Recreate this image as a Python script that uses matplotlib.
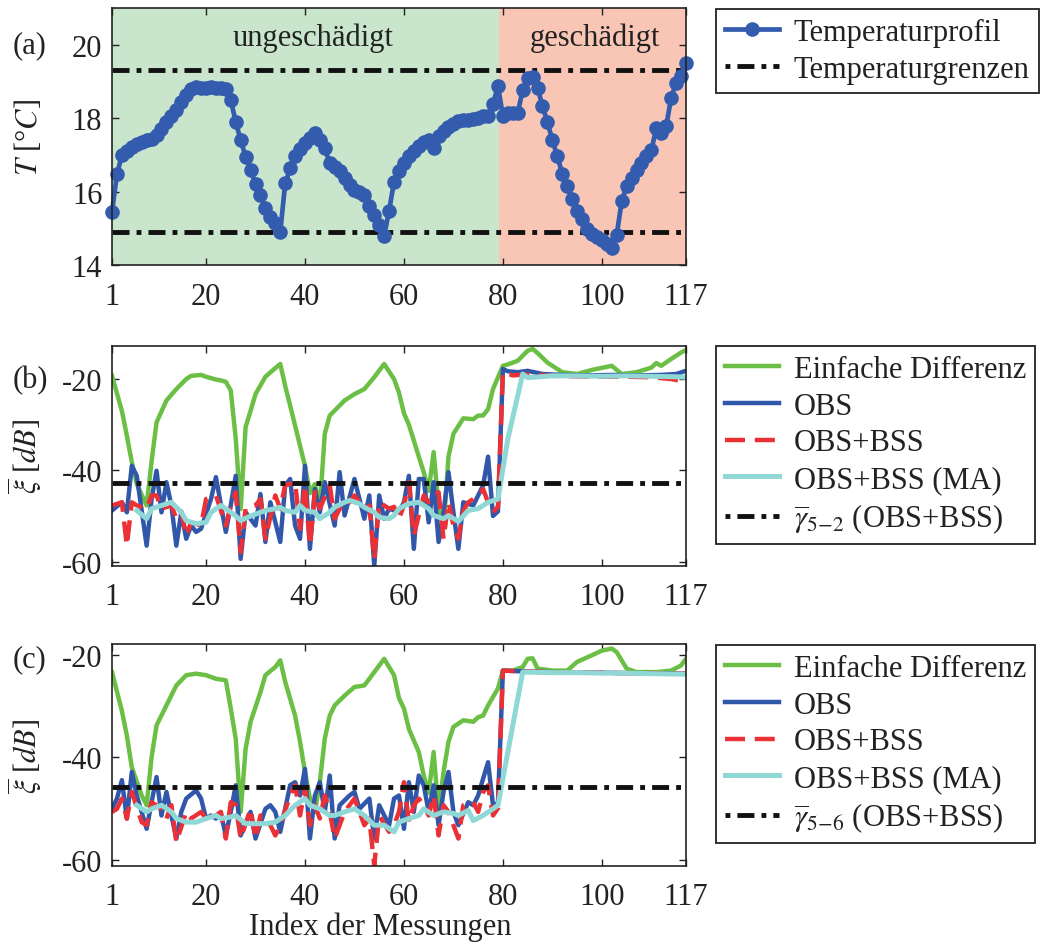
import matplotlib
matplotlib.use("Agg")
import matplotlib.pyplot as plt

plt.rcParams['font.family'] = ['Liberation Serif', 'DejaVu Serif']
plt.rcParams['mathtext.fontset'] = 'stix'
plt.rcParams['axes.unicode_minus'] = False

# ---------------- data ----------------
xticks = [1, 20, 40, 60, 80, 100, 117]
damage_start = 79.2

temperature = [15.45, 16.47, 16.99, 17.10, 17.21, 17.29, 17.34, 17.40, 17.42, 17.53,
               17.70, 17.89, 18.05, 18.22, 18.44, 18.63, 18.79, 18.85, 18.82, 18.82,
               18.85, 18.82, 18.82, 18.79, 18.50, 17.90, 17.40, 16.95, 16.60, 16.20,
               15.90, 15.55, 15.30, 15.15, 14.90, 16.22, 16.63, 16.96, 17.15, 17.32,
               17.45, 17.59, 17.40, 17.18, 16.77, 16.68, 16.55, 16.36, 16.19, 16.05,
               16.00, 15.92, 15.62, 15.37, 15.10, 14.79, 15.48, 16.27, 16.55, 16.77,
               16.96, 17.10, 17.23, 17.34, 17.40, 17.18, 17.51, 17.64, 17.75, 17.84,
               17.92, 17.95, 17.95, 17.97, 18.00, 18.05, 18.05, 18.38, 18.88, 18.05,
               18.14, 18.14, 18.14, 18.77, 19.10, 19.12, 18.82, 18.33, 17.89, 17.40,
               16.96, 16.49, 16.14, 15.81, 15.48, 15.26, 14.99, 14.85, 14.77, 14.68,
               14.58, 14.47, 14.82, 15.73, 16.14, 16.36, 16.58, 16.77, 16.96, 17.12,
               17.73, 17.59, 17.78, 18.55, 18.96, 19.15, 19.51]
temp_index = list(range(1, len(temperature) + 1))
temp_limits = [14.9, 19.3]

# panel (b)
gb_x = [1,3,4,5,6,8,9,10,12,14,16,17,19,20,22,23,24,25,26,27,28,29,30,32,34,35,36,37,39,40,
        41,42,43,44,45,46,48,50,52,54,56,58,59,60,61,63,64,65,66,67,68,69,70,72,74,75,76,77,78,80,
        81,83,85,86,87,89,92,95,98,102,104,107,110,111,112,114,116,117]
gb_y = [-19.3,-27.0,-32.4,-38.2,-43.0,-47.7,-38.0,-29.5,-24.7,-22.2,-20.0,-19.3,-19.1,-19.5,-20.1,
        -20.3,-20.6,-22.5,-33.0,-48.5,-30.5,-27.0,-23.3,-19.5,-17.6,-16.7,-21.5,-25.8,-34.6,-39.0,
        -45.0,-43.0,-48.0,-32.0,-28.0,-26.9,-24.7,-23.3,-22.2,-19.6,-16.7,-20.0,-23.0,-27.5,-30.0,
        -37.0,-40.4,-44.5,-36.0,-48.0,-52.8,-37.0,-32.0,-28.6,-28.8,-28.0,-28.0,-26.6,-22.2,-17.1,
        -16.8,-16.0,-13.8,-13.4,-14.3,-16.4,-18.5,-18.9,-18.0,-17.1,-18.9,-18.5,-17.5,-16.5,-17.1,
        -15.6,-14.2,-13.6]
bb_x = [1,3,4,5,6,8,9,10,11,12,13,14,15,16,17,18,19,21,22,24,25,26,27,28,30,31,32,33,35,36,
        37,38,39,40,41,42,43,44,46,47,48,50,52,53,54,55,56,57,59,60,61,62,63,64,65,66,67,68,69,70,
        71,72,74,75,76,77,78,79,80,81,83,85,88,92,97,102,107,112,115,117]
bb_y = [-48.8,-47.0,-49.2,-39.0,-41.2,-56.5,-46.3,-40.1,-49.2,-42.6,-47.7,-56.5,-49.2,-55.0,-52.1,
        -53.5,-52.8,-46.3,-41.5,-53.5,-47.7,-41.2,-59.4,-49.2,-52.1,-45.2,-55.7,-47.0,-55.7,-43.3,
        -41.9,-52.1,-55.0,-39.0,-57.2,-44.1,-49.2,-42.6,-52.1,-40.4,-49.9,-41.9,-50.6,-45.5,-60.9,
        -45.5,-50.6,-48.4,-49.2,-47.0,-41.2,-57.2,-41.9,-41.9,-51.4,-42.6,-55.7,-49.2,-40.4,-49.2,
        -57.2,-47.0,-47.7,-45.5,-43.3,-37.0,-50.0,-49.0,-17.8,-18.3,-18.5,-18.2,-18.9,-19.1,-19.2,
        -19.1,-19.2,-19.1,-18.9,-18.2]
rb_x = [1,3,4,5,6,8,9,10,11,13,14,15,16,17,19,20,22,24,25,26,27,28,30,31,32,34,35,36,38,39,
        40,41,42,43,45,46,48,49,50,52,53,54,55,57,58,59,60,61,62,64,65,66,67,68,69,70,71,72,73,74,
        75,76,77,78,79,80,82,85,90,95,100,105,110,114,117]
rb_y = [-47.7,-47.0,-56.5,-47.0,-47.7,-48.4,-45.5,-45.5,-48.4,-47.7,-50.6,-49.0,-54.3,-51.4,-52.1,
        -46.3,-45.5,-52.1,-47.7,-44.8,-57.9,-48.4,-47.7,-46.3,-55.0,-45.5,-48.4,-43.3,-42.6,-52.8,
        -43.3,-56.5,-44.8,-48.4,-43.3,-50.6,-46.3,-47.0,-45.5,-48.4,-47.7,-59.4,-47.0,-48.4,-48.0,
        -50.6,-47.7,-42.6,-54.3,-45.5,-47.0,-46.0,-44.8,-55.0,-47.0,-52.1,-55.0,-49.0,-47.0,-46.3,
        -45.5,-44.1,-47.0,-49.2,-48.0,-18.5,-19.2,-19.0,-19.3,-19.4,-19.5,-19.5,-19.6,-20.0,-20.6]
cb_x = [6,8,9,11,13,15,16,18,20,21,23,24,26,27,29,31,32,34,35,36,38,39,40,42,43,45,46,48,49,51,
        52,54,55,57,58,59,61,63,65,66,68,69,71,73,75,77,79,81,84,85,90,95,100,105,110,115,117]
cb_y = [-48.8,-50.6,-48.4,-47.7,-47.0,-49.2,-51.0,-51.7,-51.4,-49.2,-47.7,-48.4,-50.0,-51.0,-50.0,
        -49.2,-48.8,-48.4,-48.1,-48.8,-49.2,-47.7,-48.8,-49.2,-50.6,-49.2,-48.1,-47.0,-46.6,-47.3,
        -48.1,-49.2,-50.3,-50.6,-49.9,-48.4,-47.3,-47.0,-48.4,-49.9,-50.6,-49.9,-51.2,-48.8,-48.4,
        -47.0,-46.3,-33.1,-18.9,-19.7,-19.3,-19.3,-19.4,-19.3,-19.4,-19.5,-19.6]
threshold_b = -42.7

# panel (c)
gc_x = [1,3,4,5,7,8,9,10,12,14,16,18,20,22,24,25,26,27,28,29,31,32,34,35,36,38,39,40,41,42,
        43,44,45,46,48,50,52,54,56,58,59,60,61,63,64,65,66,67,68,69,70,72,74,75,76,77,79,80,82,84,
        85,86,87,90,93,95,98,100,102,103,105,107,111,114,116,117]
gc_y = [-23.4,-31.0,-35.8,-42.0,-47.5,-49.4,-40.0,-33.8,-29.9,-26.0,-24.0,-23.7,-24.0,-24.7,-25.0,
        -30.5,-36.4,-50.7,-38.4,-33.1,-27.3,-24.0,-22.4,-21.1,-25.3,-31.9,-37.0,-42.9,-48.1,-50.7,
        -44.9,-36.4,-31.9,-29.9,-28.0,-26.3,-26.0,-23.4,-20.8,-24.0,-28.5,-30.5,-34.5,-39.0,-43.6,
        -47.0,-39.0,-50.7,-42.9,-37.0,-34.1,-32.8,-33.1,-32.2,-31.9,-29.9,-26.6,-23.1,-23.1,-22.4,
        -20.8,-20.7,-22.7,-23.1,-23.1,-21.4,-20.1,-19.2,-18.8,-19.5,-22.7,-23.4,-23.4,-23.1,-22.1,
        -20.8]
bc_x = [1,2,3,4,5,6,8,9,10,11,12,13,14,15,16,18,19,20,21,22,23,24,25,26,27,29,30,32,33,34,
        35,37,38,39,40,41,42,43,44,45,46,47,49,50,51,53,54,55,57,58,59,60,61,62,63,64,65,66,67,68,
        69,70,71,73,74,75,76,77,78,79,80,85,90,95,100,105,110,117]
bc_y = [-50.1,-48.1,-44.5,-52.0,-42.9,-47.5,-54.0,-48.8,-43.9,-51.4,-46.8,-51.4,-55.9,-50.7,-48.1,
        -46.5,-48.1,-52.0,-51.4,-52.0,-51.0,-55.3,-50.7,-45.5,-55.3,-50.7,-55.9,-50.1,-49.4,-50.7,
        -54.6,-45.5,-44.9,-47.5,-42.3,-55.9,-47.5,-44.9,-50.7,-43.6,-55.9,-49.4,-47.5,-46.8,-50.1,
        -48.1,-55.9,-49.4,-53.3,-48.1,-47.5,-54.0,-44.9,-50.7,-43.6,-45.5,-50.7,-45.5,-53.3,-46.8,
        -42.9,-50.7,-53.3,-48.8,-49.4,-47.5,-44.2,-41.0,-49.4,-49.0,-23.1,-23.3,-23.4,-23.5,-23.5,
        -23.6,-23.6,-23.7]
rc_x = [1,2,3,4,5,7,8,9,11,12,13,14,16,17,19,20,22,23,24,25,26,27,29,30,31,33,34,35,37,38,
        39,40,41,42,43,44,45,46,48,49,50,52,53,54,55,57,58,59,60,61,62,63,64,65,66,67,68,69,70,71,
        72,74,75,76,77,78,79,80,85,90,95,100,105,110,117]
rc_y = [-50.7,-50.1,-48.1,-52.0,-46.8,-52.7,-53.3,-48.8,-50.1,-52.0,-49.4,-56.6,-50.7,-52.0,-50.7,
        -52.0,-51.4,-50.7,-55.9,-48.8,-49.4,-55.9,-50.1,-55.9,-51.4,-53.3,-55.3,-53.3,-47.5,-45.5,
        -51.4,-46.2,-53.3,-49.4,-52.0,-47.5,-50.7,-55.9,-50.7,-49.4,-48.1,-53.3,-52.0,-61.2,-51.4,
        -54.6,-53.3,-50.7,-44.9,-52.7,-49.4,-48.1,-49.4,-51.4,-47.5,-55.3,-49.4,-50.7,-53.3,-55.9,
        -49.4,-48.8,-50.7,-46.8,-45.5,-51.4,-50.0,-23.1,-23.3,-23.4,-23.5,-23.5,-23.6,-23.6,-23.7]
cc_x = [6,8,9,11,13,14,16,18,20,22,23,25,26,28,30,32,34,36,38,40,41,43,45,46,48,50,52,54,56,58,
        59,61,63,64,66,68,70,71,73,74,76,78,79,84,90,95,100,105,110,117]
cc_y = [-49.4,-50.7,-50.1,-49.4,-50.7,-52.0,-52.7,-52.7,-52.0,-51.4,-52.0,-51.7,-51.4,-53.0,-53.0,
        -53.0,-52.7,-51.4,-49.4,-48.1,-49.4,-50.1,-51.4,-51.4,-50.7,-50.1,-51.4,-53.3,-53.3,-54.6,
        -52.7,-52.0,-51.4,-50.1,-51.4,-50.7,-51.0,-51.4,-50.4,-52.4,-51.4,-50.1,-49.4,-23.4,-23.5,
        -23.5,-23.6,-23.6,-23.7,-23.8]
threshold_c = -45.8

labels_bc = ["Einfache Differenz", "OBS", "OBS+BSS", "OBS+BSS (MA)"]

# ---------------- style ----------------
FS = 22
C_GREEN = "#6cbf45"
C_BLUE = "#3157aa"
C_RED = "#ec3136"
C_CYAN = "#8fd8d6"
C_TEMP = "#345cae"
DASHDOT = (0, (3.5, 1.45, 1.0, 1.45))
DASHDOT_LEG = (4.95, (3.5, 1.45, 1.0, 1.45))

fig = plt.figure(figsize=(10.4, 9.45), dpi=100)
ax_a = fig.add_axes([0.1077, 0.7185, 0.5519, 0.2720])
ax_b = fig.add_axes([0.1077, 0.4003, 0.5519, 0.2328])
ax_c = fig.add_axes([0.1077, 0.0829, 0.5519, 0.2346])


def style_axes(ax):
    ax.set_xlim(1, 117)
    ax.set_xticks(xticks)
    ax.tick_params(direction='in', length=5, width=1.0, top=True, right=True,
                   labelsize=FS, pad=7, colors='#222222', labelcolor='#222222')
    ax.tick_params(axis='x', pad=12)
    for s in ax.spines.values():
        s.set_linewidth(1.2)
        s.set_color('#222222')
        s.set_zorder(10)


# ---- (a) ----
ax_a.axvspan(1, damage_start, color='#c9e6cd', zorder=0, lw=0)
ax_a.axvspan(damage_start, 117, color='#f9c5b5', zorder=0, lw=0)
ax_a.plot(temp_index, temperature, '-o', color=C_TEMP, lw=3.4, ms=9.5,
          label='Temperaturprofil', zorder=3, clip_on=False)
ax_a.plot([1, 117], [temp_limits[1]] * 2, color='#111111', lw=3.5, ls=DASHDOT,
          label='Temperaturgrenzen', zorder=2)
ax_a.plot([1, 117], [temp_limits[0]] * 2, color='#111111', lw=3.5, ls=DASHDOT, zorder=2)
ax_a.set_ylim(14, 21)
ax_a.set_yticks([14, 16, 18, 20])
style_axes(ax_a)
ax_a.text(41.6, 20.2, 'ungeschädigt', fontsize=FS, ha='center', va='center', color='#222222')
ax_a.text(98.6, 20.2, 'geschädigt', fontsize=FS, ha='center', va='center', color='#222222')
ax_a.set_ylabel('$T$ [°$C$]', fontsize=FS, color='#222222')
ax_a.yaxis.set_label_coords(-0.118, 0.5)


def draw_panel(ax, gx, gy, bx, by, rx, ry, cx, cy, thr, thr_label, ylim):
    ax.plot(gx, gy, color=C_GREEN, lw=3.2, label=labels_bc[0], zorder=2)
    ax.plot(bx, by, color=C_BLUE, lw=3.2, label=labels_bc[1], zorder=3)
    ax.plot(rx, ry, color=C_RED, lw=3.2, ls=(0, (4.5, 2.2)), label=labels_bc[2], zorder=4)
    ax.plot(cx, cy, color=C_CYAN, lw=3.6, label=labels_bc[3], zorder=5)
    ax.plot([1, 117], [thr, thr], color='#111111', lw=3.5, ls=DASHDOT, label=thr_label, zorder=6)
    ax.set_ylim(*ylim)
    ax.set_yticks([-60, -40, -20])
    style_axes(ax)
    ax.set_ylabel(r'$\overline{\xi}$ [$dB$]', fontsize=FS, color='#222222')
    ax.yaxis.set_label_coords(-0.118, 0.5)


draw_panel(ax_b, gb_x, gb_y, bb_x, bb_y, rb_x, rb_y, cb_x, cb_y, threshold_b,
           r'$\overline{\gamma}_{5\mathrm{-}2}$ (OBS+BSS)', (-60.9, -12.7))
draw_panel(ax_c, gc_x, gc_y, bc_x, bc_y, rc_x, rc_y, cc_x, cc_y, threshold_c,
           r'$\overline{\gamma}_{5\mathrm{-}6}$ (OBS+BSS)', (-61.2, -17.9))

fig.text(380 / 1040, 1 - 927 / 945, 'Index der Messungen', fontsize=FS, ha='center',
         va='center', color='#222222')

for ax, ytop in [(ax_a, 10), (ax_b, 347), (ax_c, 646)]:
    leg = ax.legend(loc='upper left', bbox_to_anchor=(716 / 1040, 1 - ytop / 945),
                    bbox_transform=fig.transFigure, fontsize=FS, frameon=True,
                    fancybox=False, framealpha=1, edgecolor='#222222',
                    borderpad=0.3, borderaxespad=0, handlelength=1.75,
                    handletextpad=0.5, labelspacing=0.25)
    leg.get_frame().set_linewidth(1.3)
    for t in leg.get_texts():
        t.set_color('#222222')
    leg.legend_handles[-1].set_linestyle(DASHDOT_LEG)

fig.text(30 / 1040, 1 - 46 / 945, '(a)', fontsize=FS, ha='center', va='center', color='#222222')
fig.text(30 / 1040, 1 - 381 / 945, '(b)', fontsize=FS, ha='center', va='center', color='#222222')
fig.text(30 / 1040, 1 - 660 / 945, '(c)', fontsize=FS, ha='center', va='center', color='#222222')

fig.savefig('out.png', dpi=100)
